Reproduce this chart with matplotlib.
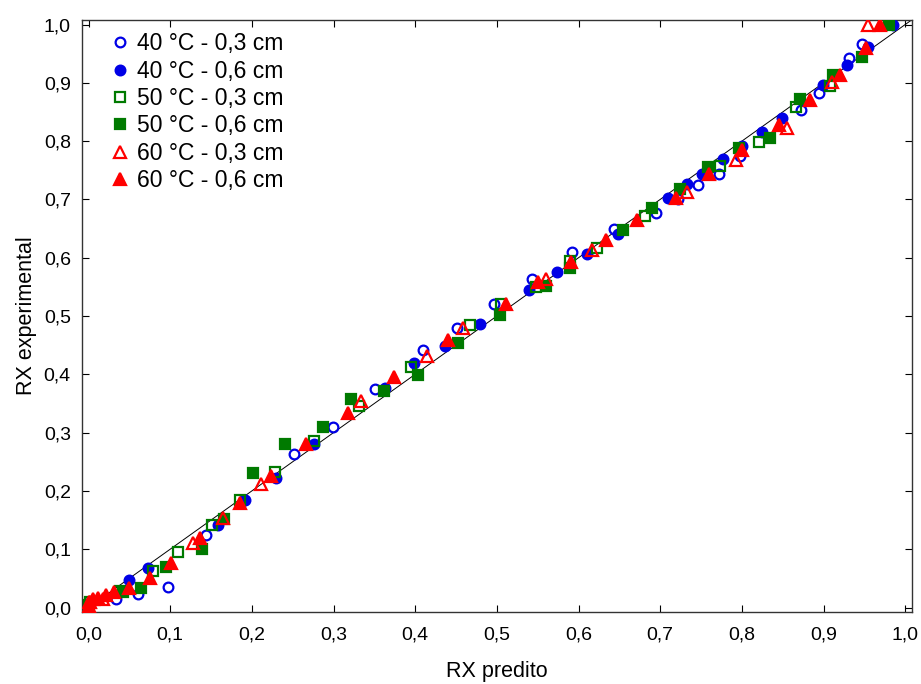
import matplotlib; matplotlib.use("Agg")
import matplotlib.pyplot as plt
from matplotlib.ticker import FuncFormatter, MultipleLocator
from matplotlib import font_manager
import numpy as np

# series values (RX predito, RX experimental)
x_40_03 = [0.000, 0.034, 0.060, 0.097, 0.144, 0.190, 0.252, 0.299, 0.351, 0.410, 0.451, 0.496,
           0.543, 0.592, 0.643, 0.695, 0.722, 0.746, 0.772, 0.798, 0.872, 0.894, 0.931, 0.947]
y_40_03 = [0.005, 0.015, 0.024, 0.036, 0.124, 0.185, 0.264, 0.309, 0.374, 0.441, 0.480, 0.520,
           0.563, 0.609, 0.650, 0.676, 0.700, 0.724, 0.744, 0.774, 0.854, 0.882, 0.942, 0.967]

x_40_06 = [0.000, 0.049, 0.073, 0.159, 0.191, 0.229, 0.276, 0.363, 0.399, 0.436, 0.479, 0.539, 0.574,
           0.610, 0.648, 0.709, 0.733, 0.751, 0.777, 0.800, 0.825, 0.849, 0.899, 0.929, 0.954, 0.985]
y_40_06 = [0.007, 0.048, 0.067, 0.141, 0.184, 0.223, 0.280, 0.376, 0.420, 0.449, 0.487, 0.545, 0.576,
           0.607, 0.640, 0.703, 0.726, 0.744, 0.770, 0.792, 0.816, 0.840, 0.897, 0.930, 0.961, 1.000]

x_50_03 = [0.002, 0.038, 0.079, 0.110, 0.151, 0.185, 0.228, 0.276, 0.331, 0.395, 0.467, 0.505,
           0.548, 0.590, 0.622, 0.681, 0.773, 0.821, 0.866, 0.908]
y_50_03 = [0.010, 0.029, 0.062, 0.096, 0.142, 0.185, 0.232, 0.286, 0.345, 0.412, 0.484, 0.520,
           0.549, 0.595, 0.616, 0.672, 0.758, 0.799, 0.858, 0.894]

x_50_06 = [0.000, 0.042, 0.064, 0.095, 0.139, 0.166, 0.202, 0.240, 0.287, 0.321, 0.362, 0.404, 0.452,
           0.504, 0.560, 0.590, 0.654, 0.690, 0.724, 0.759, 0.796, 0.835, 0.871, 0.911, 0.947, 0.980]
y_50_06 = [0.005, 0.026, 0.034, 0.070, 0.101, 0.151, 0.230, 0.281, 0.309, 0.358, 0.372, 0.398, 0.453,
           0.501, 0.551, 0.583, 0.647, 0.686, 0.717, 0.756, 0.789, 0.806, 0.873, 0.913, 0.945, 1.000]

x_60_03 = [0.000, 0.018, 0.128, 0.165, 0.211, 0.334, 0.415, 0.459, 0.560, 0.616, 0.733, 0.793,
           0.855, 0.910, 0.954]
y_60_03 = [0.009, 0.014, 0.110, 0.154, 0.211, 0.355, 0.432, 0.479, 0.564, 0.614, 0.712, 0.767,
           0.823, 0.902, 1.000]

x_60_06 = [0.000, 0.002, 0.005, 0.012, 0.021, 0.031, 0.050, 0.075, 0.101, 0.137, 0.185, 0.223, 0.266,
           0.318, 0.374, 0.440, 0.511, 0.550, 0.591, 0.633, 0.672, 0.719, 0.760, 0.800, 0.845, 0.883,
           0.920, 0.952, 0.969]
y_60_06 = [0.003, 0.010, 0.014, 0.017, 0.021, 0.026, 0.034, 0.051, 0.077, 0.120, 0.180, 0.225, 0.280,
           0.333, 0.395, 0.458, 0.521, 0.559, 0.592, 0.631, 0.664, 0.703, 0.744, 0.784, 0.827, 0.870,
           0.913, 0.959, 1.000]

labels = ["40 °C - 0,3 cm", "40 °C - 0,6 cm", "50 °C - 0,3 cm",
          "50 °C - 0,6 cm", "60 °C - 0,3 cm", "60 °C - 0,6 cm"]

BLUE = "#0000E6"; GREEN = "#007A00"; RED = "#FF0000"

names = {f.name for f in font_manager.fontManager.ttflist}
TICKFONT = "Liberation Sans Narrow" if "Liberation Sans Narrow" in names else "Liberation Sans"
plt.rcParams["font.family"] = ["Liberation Sans", "DejaVu Sans"]

fig = plt.figure(figsize=(9.21, 6.84), dpi=100)
ax = fig.add_axes([0.089, 0.105, 0.901, 0.866])

ax.plot([-0.02, 1.02], [-0.02, 1.02], color="black", lw=0.7, zorder=1)

styles = [
    (x_40_03, y_40_03, "o", BLUE, "none", 7),
    (x_40_06, y_40_06, "o", BLUE, BLUE, 7),
    (x_50_03, y_50_03, "s", GREEN, "none", 7.5),
    (x_50_06, y_50_06, "s", GREEN, GREEN, 7.5),
    (x_60_03, y_60_03, "^", RED, "none", 8),
    (x_60_06, y_60_06, "^", RED, RED, 8),
]
for (xs, ys, m, ec, fc, ms), lab in zip(styles, labels):
    ax.plot(xs, ys, ls="none", marker=m, ms=ms, mec=ec, mfc=fc, mew=1.6,
            label=lab, zorder=3)

ax.set_xlim(-0.008, 1.008)
ax.set_ylim(-0.008, 1.008)
ax.xaxis.set_major_locator(MultipleLocator(0.1))
ax.yaxis.set_major_locator(MultipleLocator(0.1))
fmt = FuncFormatter(lambda v, p: f"{v:.1f}".replace(".", ","))
ax.xaxis.set_major_formatter(fmt)
ax.yaxis.set_major_formatter(fmt)
ax.tick_params(direction="in", length=5, width=0.8, top=True, right=True,
               labelsize=14, pad=8)
ax.tick_params(axis="x", pad=10)
for lbl in ax.get_xticklabels() + ax.get_yticklabels():
    lbl.set_fontfamily(TICKFONT)
for s in ax.spines.values():
    s.set_linewidth(1.0)
    s.set_color("#333333")

ax.set_xlabel("RX predito", fontsize=15.5, labelpad=13)
ax.set_ylabel("RX experimental", fontsize=15.5, labelpad=5)

ax.legend(loc="upper left", frameon=False, fontsize=16.5, handletextpad=0.22,
          borderaxespad=0.3, labelspacing=0.19, handlelength=1.05,
          bbox_to_anchor=(0.012, 1.006))

fig.savefig("out.png", dpi=100)
